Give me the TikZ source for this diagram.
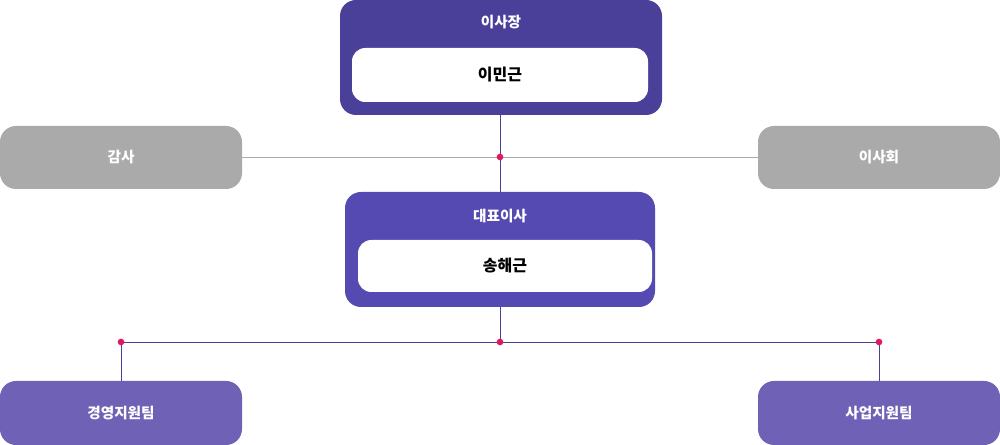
\documentclass[tikz,border=0pt]{standalone}
\usepackage{fontspec}
\setmainfont{Noto Sans CJK KR}
\usetikzlibrary{positioning, calc}
\definecolor{topviolet}{HTML}{4B4099}
\definecolor{midviolet}{HTML}{554AB2}
\definecolor{lowviolet}{HTML}{6E61B6}
\definecolor{boxgray}{HTML}{AAAAAA}
\definecolor{dotpink}{HTML}{E0185E}
\tikzset{
  headtext/.style={text=white, font=\bfseries\fontsize{11pt}{13pt}\selectfont},
  persontext/.style={text=black, font=\bfseries\fontsize{12pt}{14pt}\selectfont},
  link/.style={draw=topviolet, line width=0.6pt},
  junction/.style={circle, fill=dotpink, inner sep=0pt, minimum size=5pt}
}
\begin{document}
\begin{tikzpicture}[x=0.0264cm, y=-0.0264cm]
  \useasboundingbox (0,0) rectangle (1000,445);
  % top
  \fill[topviolet, rounded corners=12pt] (340,0) rectangle (662,115);
  \node[headtext] (chairT) at (501,22) {이사장};
  \fill[white, rounded corners=10pt] (352,48) rectangle (648,102);
  \node[persontext] (chairN) at (500,75) {이민근};
  % middle
  \fill[midviolet, rounded corners=12pt] (345,192) rectangle (655,307);
  \node[headtext] (ceoT) at (500,216) {대표이사};
  \fill[white, rounded corners=10pt] (358,240) rectangle (652,292);
  \node[persontext] (ceoN) at (505,266) {송해근};
  % side boxes
  \fill[boxgray, rounded corners=12pt] (0,126) rectangle (242,189);
  \fill[boxgray, rounded corners=12pt] (758,126) rectangle (1000,189);
  \fill[lowviolet, rounded corners=12pt] (0,381) rectangle (242,445);
  \fill[lowviolet, rounded corners=12pt] (758,381) rectangle (1000,445);
  \node[headtext] (auditT) at (121,157) {감사};
  \node[headtext] (boardT) at (879,157) {이사회};
  \node[headtext] (mgmtT) at (121,413) {경영지원팀};
  \node[headtext] (bizT) at (879,413) {사업지원팀};
  % connectors
  \coordinate (auditE) at (242,157);
  \coordinate (boardW) at (758,157);
  \coordinate (chairS) at (500,115);
  \coordinate (ceoNorth) at (500,192);
  \coordinate (ceoS) at (500,307);
  \coordinate (hub) at (500,342);
  \coordinate (hubL) at (121,342);
  \coordinate (hubR) at (879,342);
  \coordinate (mgmtN) at (121,381);
  \coordinate (bizN) at (879,381);
  \coordinate (mid) at (500,157);
  \draw[boxgray, line width=0.6pt] (auditE) -- (boardW);
  \draw[link] (chairS) -- (ceoNorth);
  \draw[link] (ceoS) -- (hub);
  \draw[link] (hubL) -- (hubR);
  \draw[link] (hubL) -- (mgmtN);
  \draw[link] (hubR) -- (bizN);
  \foreach \p in {mid, hub, hubL, hubR}
    \node[junction] at (\p) {};
\end{tikzpicture}
\end{document}
